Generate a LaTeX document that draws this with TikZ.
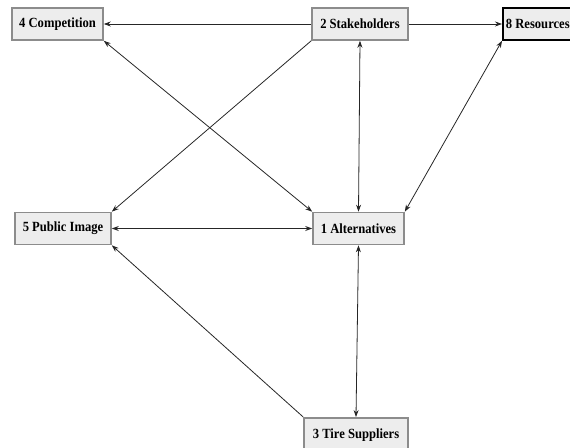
\documentclass[tikz,border=0pt]{standalone}
\usepackage{fontspec}
\setmainfont{Liberation Serif}[FakeStretch=0.9]
\usetikzlibrary{arrows.meta}
\begin{document}
\begin{tikzpicture}[x=1pt,y=-1pt,
  box/.style={draw=black!45, line width=1.6pt, fill=black!7, font=\fontsize{14}{16}\selectfont\bfseries, inner xsep=4pt, minimum height=32pt, anchor=center},
  darkbox/.style={box, draw=black, inner xsep=2.5pt},
  conn/.style={line width=0.8pt, draw=black!85},
  tip/.style={-{Stealth[length=7pt,width=5pt]}},
  both/.style={{Stealth[length=7pt,width=5pt]}-{Stealth[length=7pt,width=5pt]}}]
\useasboundingbox (0,0) rectangle (570,447);
\clip (0,0) rectangle (570,447);
\node[box, minimum width=91pt] (n4) at (57.5,24) {4 Competition};
\node[box, minimum width=96pt] (n2) at (360,24) {2 Stakeholders};
\node[darkbox, minimum width=70pt, anchor=west] (n8) at (502,24) {8 Resources};
\node[box, minimum width=96pt] (n5) at (63,228.5) {5 Public Image};
\node[box, minimum width=91pt] (n1) at (358.5,228.5) {1 Alternatives};
\node[box, minimum width=104pt, minimum height=34pt, anchor=north] (n3) at (356,417) {3 Tire Suppliers};
\draw[conn,tip] (n2.west) -- (n4.east);
\draw[conn,tip] (n2.east) -- (n8.west);
\draw[conn,both] (n4.south east) -- (n1.north west);
\draw[conn,tip] (n2.south west) -- (n5.north east);
\draw[conn,both] (n2.south) -- (n1.north);
\draw[conn,both] (n8.south west) -- (n1.north east);
\draw[conn,both] (n5.east) -- (n1.west);
\draw[conn,both] (n1.south) -- (n3.north);
\draw[conn,tip] (n3.north west) -- (n5.south east);
\end{tikzpicture}
\end{document}
